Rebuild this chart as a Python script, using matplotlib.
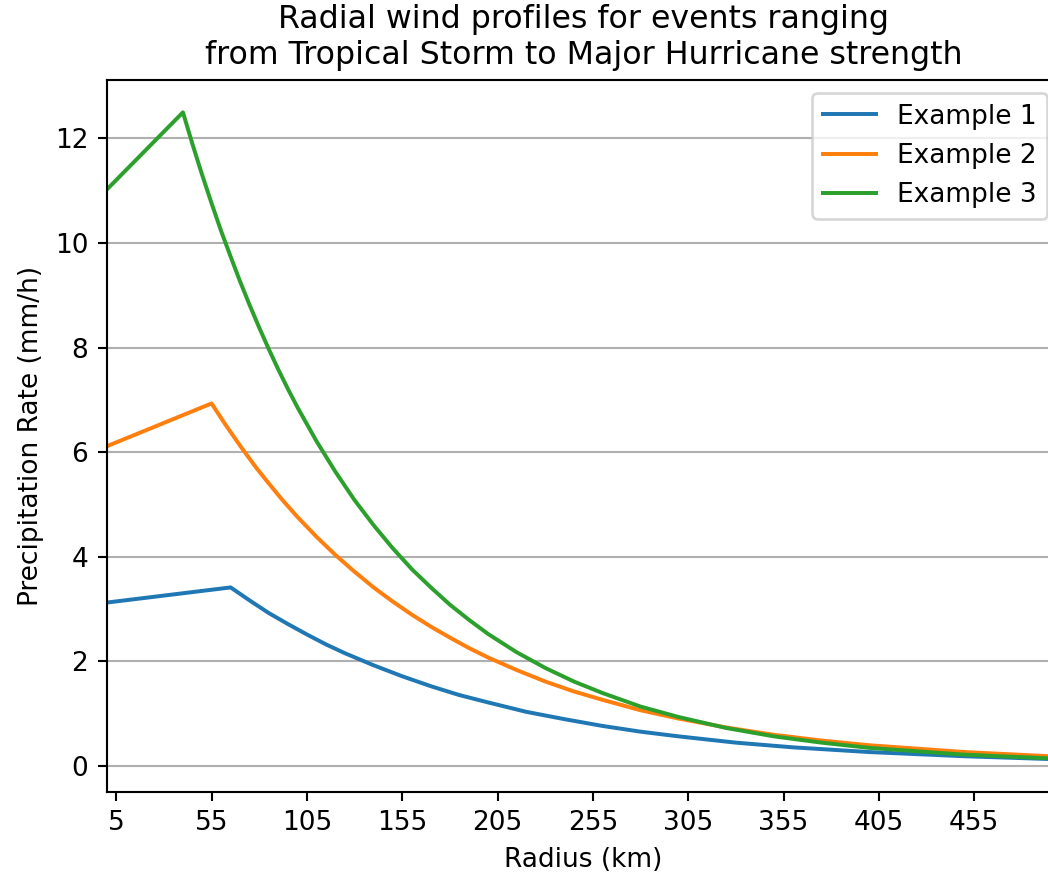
"""Radial precipitation profiles for three example storms."""

import matplotlib
matplotlib.use("Agg")
import matplotlib.pyplot as plt

# Values (radius in km, rate in mm/h)
radius_1 = [0, 65, 75, 85, 95, 105, 115, 125, 140, 155, 170, 185, 200, 220, 240, 260, 280, 300,
            330, 360, 400, 450, 500]
rate_1 = [3.12, 3.41, 3.16, 2.92, 2.71, 2.51, 2.32, 2.15, 1.92, 1.71, 1.52, 1.35, 1.21, 1.03, 0.89,
          0.76, 0.65, 0.56, 0.44, 0.35, 0.26, 0.18, 0.12]

radius_2 = [0, 55, 62, 70, 78, 85, 92, 100, 110, 120, 130, 140, 150, 160, 170, 180, 190, 200, 215,
            230, 245, 260, 280, 300, 325, 350, 375, 400, 450, 500]
rate_2 = [6.11, 6.93, 6.54, 6.12, 5.72, 5.40, 5.09, 4.76, 4.38, 4.03, 3.71, 3.41, 3.14, 2.89, 2.66,
          2.45, 2.25, 2.07, 1.83, 1.61, 1.42, 1.26, 1.06, 0.90, 0.73, 0.59, 0.48, 0.39, 0.26, 0.17]

radius_3 = [0, 40, 45, 50, 55, 60, 65, 70, 75, 80, 85, 90, 95, 100, 110, 120, 130, 140, 150, 160,
            170, 180, 190, 200, 215, 230, 245, 260, 280, 300, 325, 350, 375, 400, 450, 500]
rate_3 = [11.02, 12.50, 11.89, 11.31, 10.76, 10.23, 9.74, 9.26, 8.81, 8.38, 7.97, 7.58, 7.21, 6.86,
          6.21, 5.62, 5.08, 4.60, 4.16, 3.76, 3.41, 3.08, 2.79, 2.52, 2.17, 1.87, 1.61, 1.39, 1.13,
          0.93, 0.72, 0.56, 0.44, 0.34, 0.21, 0.13]

series_labels = ["Example 1", "Example 2", "Example 3"]
x_ticks = [5, 55, 105, 155, 205, 255, 305, 355, 405, 455]

dpi = 190
fig = plt.figure(figsize=(1048 / dpi, 876 / dpi), dpi=dpi)
# axes runs slightly past the right edge, as in the cropped reference
ax = fig.add_axes([0.1018, 0.0962, 0.9097, 0.8125])

for r, v, lab in zip([radius_1, radius_2, radius_3], [rate_1, rate_2, rate_3], series_labels):
    ax.plot(r, v, label=lab)

ax.set_xlim(0, 500)
ax.set_xticks(x_ticks)
ax.grid(axis="y")
ax.set_xlabel("Radius (km)")
ax.set_ylabel("Precipitation Rate (mm/h)")
ax.set_title("Radial wind profiles for events ranging\nfrom Tropical Storm to Major Hurricane strength")
ax.legend(loc="upper right")

fig.savefig("out.png", dpi=dpi)
plt.close(fig)
